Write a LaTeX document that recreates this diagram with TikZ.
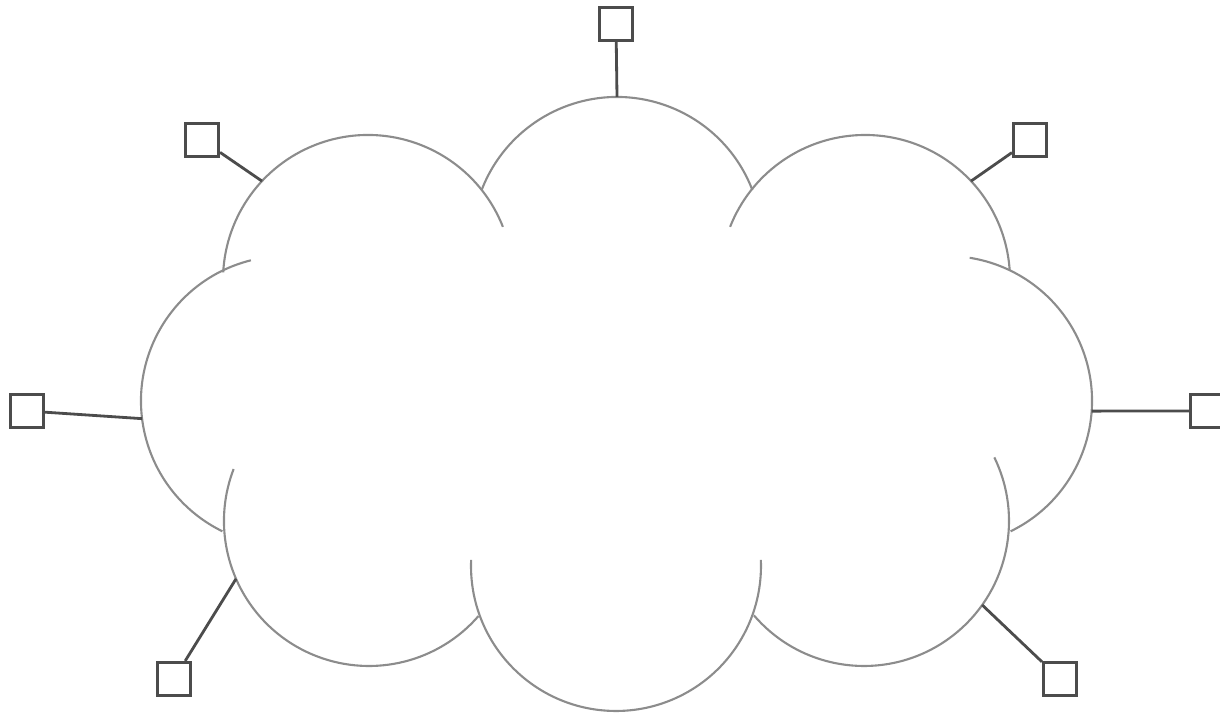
\documentclass[tikz,border=0pt]{standalone}
\usepackage{tikz}

\begin{document}
\begin{tikzpicture}[x=0.1mm, y=0.1mm]
    \tikzstyle{puff} = [draw=black!45, line width=0.6pt]
    \tikzstyle{host} = [rectangle, draw=black!70, line width=0.9pt, fill=white,
        minimum size=3.3mm, inner sep=0pt]
    \tikzstyle{link} = [draw=black!70, line width=0.8pt]

    \useasboundingbox (0,0) rectangle (1220,713);

    \coordinate (cT) at (617,471);
    \coordinate (cTL) at (368,433);
    \coordinate (cTR) at (865,433);
    \coordinate (cL) at (286,312);
    \coordinate (cR) at (947,312);
    \coordinate (cBL) at (369,192);
    \coordinate (cBC) at (616,147);
    \coordinate (cBR) at (864,192);

    \draw [puff] (cT) ++(21:14.5mm) arc[start angle=21, end angle=159, radius=14.5mm];
    \draw [puff] (cTL) ++(21.5:14.5mm) arc[start angle=21.5, end angle=177, radius=14.5mm];
    \draw [puff] (cTR) ++(4:14.5mm) arc[start angle=4, end angle=158.5, radius=14.5mm];
    \draw [puff] (cL) ++(104:14.5mm) arc[start angle=104, end angle=244, radius=14.5mm];
    \draw [puff] (cR) ++(-64:14.5mm) arc[start angle=-64, end angle=81, radius=14.5mm];
    \draw [puff] (cBL) ++(159:14.5mm) arc[start angle=159, end angle=319, radius=14.5mm];
    \draw [puff] (cBC) ++(177.6:14.5mm) arc[start angle=177.6, end angle=362.4, radius=14.5mm];
    \draw [puff] (cBR) ++(220.6:14.5mm) arc[start angle=220.6, end angle=386, radius=14.5mm];

    \path (cT) ++(90:14.5mm) coordinate (tT);
    \path (cTL) ++(137:14.5mm) coordinate (tTL);
    \path (cTR) ++(43:14.5mm) coordinate (tTR);
    \path (cL) ++(187:14.5mm) coordinate (tL);
    \path (cR) ++(-4:14.5mm) coordinate (tR);
    \path (cBL) ++(203.5:14.5mm) coordinate (tBL);
    \path (cBR) ++(-35.4:14.5mm) coordinate (tBR);

    \node [host] (hT) at (616,689) {};
    \node [host] (hTL) at (202,573) {};
    \node [host] (hTR) at (1030,573) {};
    \node [host] (hL) at (27,302) {};
    \node [host] (hR) at (1207,302) {};
    \node [host] (hBL) at (174,34) {};
    \node [host] (hBR) at (1060,34) {};

    \path [link] (hT) -- (tT);
    \path [link] (hTL) -- (tTL);
    \path [link] (hTR) -- (tTR);
    \path [link] (hL) -- (tL);
    \path [link] (hR) -- (tR);
    \path [link] (hBL) -- (tBL);
    \path [link] (hBR) -- (tBR);
\end{tikzpicture}
\end{document}
